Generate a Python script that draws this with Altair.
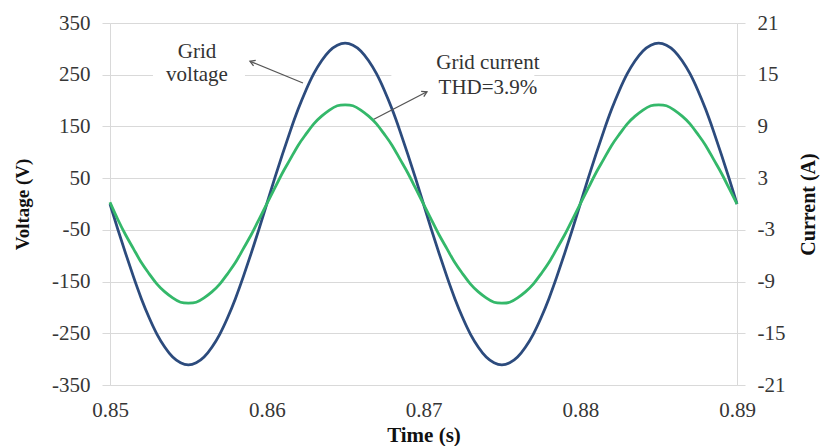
import altair as alt
import pandas as pd

# sample times (s)
time = [round(0.85 + 0.0005 * i, 4) for i in range(81)]

# grid voltage (V)
voltage = [0, -49, -96, -141, -183, -220, -252, -277, -296, -307,
           -311, -307, -296, -277, -252, -220, -183, -141, -96, -49,
           0, 49, 96, 141, 183, 220, 252, 277, 296, 307,
           311, 307, 296, 277, 252, 220, 183, 141, 96, 49,
           0, -49, -96, -141, -183, -220, -252, -277, -296, -307,
           -311, -307, -296, -277, -252, -220, -183, -141, -96, -49,
           0, 49, 96, 141, 183, 220, 252, 277, 296, 307,
           311, 307, 296, 277, 252, 220, 183, 141, 96, 49,
           0]

# grid current (A)
current = [0.2, -1.8, -3.6, -5.2, -6.8, -8.1, -9.3, -10.2, -10.9, -11.4,
           -11.5, -11.4, -10.9, -10.2, -9.3, -8.1, -6.8, -5.2, -3.6, -1.8,
           0, 1.8, 3.6, 5.2, 6.8, 8.1, 9.3, 10.2, 10.9, 11.4,
           11.5, 11.4, 10.9, 10.2, 9.3, 8.1, 6.8, 5.2, 3.6, 1.8,
           0, -1.8, -3.6, -5.2, -6.8, -8.1, -9.3, -10.2, -10.9, -11.4,
           -11.5, -11.4, -10.9, -10.2, -9.3, -8.1, -6.8, -5.2, -3.6, -1.8,
           0, 1.8, 3.6, 5.2, 6.8, 8.1, 9.3, 10.2, 10.9, 11.4,
           11.5, 11.4, 10.9, 10.2, 9.3, 8.1, 6.8, 5.2, 3.6, 1.8,
           0]

x_ticks = [0.85, 0.86, 0.87, 0.88, 0.89]
v_ticks = [-350, -250, -150, -50, 50, 150, 250, 350]
i_ticks = [-21, -15, -9, -3, 3, 9, 15, 21]

# annotations
label_text = ["Grid", "voltage", "Grid current", "THD=3.9%"]
label_t = [0.85555, 0.85555, 0.87411, 0.87411]
label_v = [294, 249, 272, 224]

arrow_t1 = [0.86231, 0.86671]
arrow_v1 = [234, 162]
arrow_t2 = [0.85893, 0.87022]
arrow_v2 = [276, 217]
arrow_angle = [292, 63]

mask_t1 = [0.85274, 0.86795]
mask_t2 = [0.85861, 0.87707]
mask_v1 = [242, 242]
mask_v2 = [258, 258]

FONT = "Liberation Serif"
GRID = "#d9d9d9"
LABEL = "#363636"

df = pd.DataFrame({"t": time, "v": voltage, "i": current})
df_lab = pd.DataFrame({"t": label_t, "v": label_v, "txt": label_text})
df_arrow = pd.DataFrame({"t": arrow_t1, "v": arrow_v1, "t2": arrow_t2, "v2": arrow_v2, "ang": arrow_angle})
df_mask = pd.DataFrame({"t": mask_t1, "t2": mask_t2, "v": mask_v1, "v2": mask_v2})

xscale = alt.Scale(domain=[0.85, 0.89], nice=False, zero=False)
vscale = alt.Scale(domain=[-350, 350], nice=False, zero=False)
iscale = alt.Scale(domain=[-21, 21], nice=False, zero=False)

x_enc = alt.X("t:Q", scale=xscale, axis=alt.Axis(
    values=x_ticks, format=".2f", title="Time (s)", ticks=False, grid=False,
    labelFlush=False,
    domainColor=GRID, labelFont=FONT, labelFontSize=21, labelColor=LABEL,
    labelPadding=14, titleFont=FONT, titleFontSize=21, titleFontWeight="bold",
    titleColor="#111111", titlePadding=4))
x_plain = alt.X("t:Q", scale=xscale)

v_line = alt.Chart(df).mark_line(color="#2c4b7d", strokeWidth=2.8, interpolate="natural").encode(
    x=x_enc,
    y=alt.Y("v:Q", scale=vscale, axis=alt.Axis(
        values=v_ticks, title="Voltage (V)", grid=True, gridColor=GRID, gridWidth=1.2,
        labelExpr="'' + datum.value", labelFlush=False,
        tickColor=GRID, tickSize=8, domainColor=GRID, labelFont=FONT, labelFontSize=21,
        labelColor=LABEL, labelPadding=12, titleFont=FONT, titleFontSize=19,
        titleFontWeight="bold", titleColor="#111111", titlePadding=19)),
)

masks = alt.Chart(df_mask).mark_rect(color="white").encode(
    x=x_plain, x2="t2:Q",
    y=alt.Y("v:Q", scale=vscale), y2="v2:Q")

texts = alt.Chart(df_lab).mark_text(font=FONT, fontSize=21, color="#333333",
                                    align="center", baseline="middle").encode(
    x=x_plain, y=alt.Y("v:Q", scale=vscale), text="txt:N")

arrows = alt.Chart(df_arrow).mark_rule(color="#555555", strokeWidth=1.3).encode(
    x=x_plain, x2="t2:Q", y=alt.Y("v:Q", scale=vscale), y2="v2:Q")

heads = alt.Chart(df_arrow).mark_point(
    shape="M-0.7,1.2L0,0L0.7,1.2", filled=False, color="#555555",
    strokeWidth=1.3, size=70, opacity=1).encode(
    x=alt.X("t2:Q", scale=xscale),
    y=alt.Y("v2:Q", scale=vscale),
    angle=alt.Angle("ang:Q", scale=None))

left = alt.layer(v_line, masks, arrows, heads, texts)

i_line = alt.Chart(df).mark_line(color="#34b86a", strokeWidth=2.8, interpolate="natural").encode(
    x=x_plain,
    y=alt.Y("i:Q", scale=iscale, axis=alt.Axis(
        orient="right", values=i_ticks, title="Current (A)", grid=False,
        labelExpr="'' + datum.value", labelFlush=False,
        tickColor=GRID, tickSize=8, domainColor=GRID, labelFont=FONT, labelFontSize=21,
        labelColor=LABEL, labelPadding=12, titleFont=FONT, titleFontSize=20,
        titleFontWeight="bold", titleColor="#111111", titleAngle=270, titlePadding=34)),
)

chart = alt.layer(left, i_line).resolve_scale(y="independent").properties(
    width=627, height=362,
    padding={"left": 110, "top": 23, "right": 86, "bottom": 61},
    autosize=alt.AutoSizeParams(type="none"),
    background="white",
).configure_view(stroke=None)

chart.save("out.html", embed_options={"renderer": "svg", "actions": False})
